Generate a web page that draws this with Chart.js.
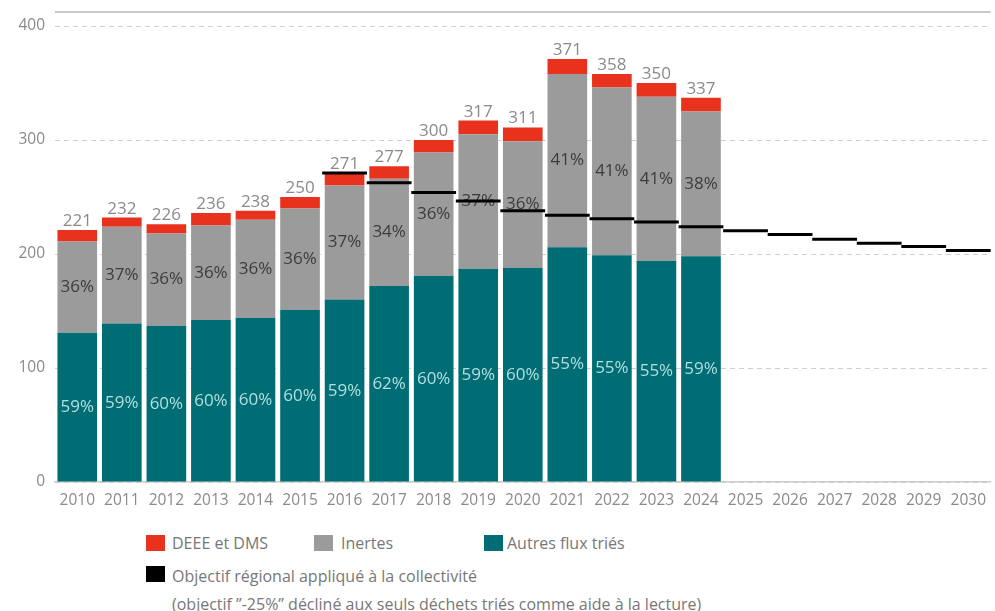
<!DOCTYPE html>
<html>
<head>
<meta charset="utf-8">
<script src="https://cdn.jsdelivr.net/npm/chart.js@4/dist/chart.umd.min.js"></script>
<style>
  body { margin: 0; background: #fff; font-family: "Open Sans", sans-serif; }
  #wrap { position: relative; width: 995px; height: 611px; overflow: hidden; }
  #chart { position: absolute; left: 0; top: 0; }
  .sq { position: absolute; width: 19px; height: 16px; }
  .lg { position: absolute; font-size: 16px; line-height: 20px; color: #777; white-space: nowrap; }
</style>
</head>
<body>
<div id="wrap">
  <canvas id="chart" width="995" height="515"></canvas>
  <div class="sq" style="left:146px;top:535px;background:#e8321e"></div>
  <div class="lg" style="left:172px;top:533px">DEEE et DMS</div>
  <div class="sq" style="left:314px;top:535px;background:#9b9b9b"></div>
  <div class="lg" style="left:341px;top:533px">Inertes</div>
  <div class="sq" style="left:484px;top:535px;background:#006d74"></div>
  <div class="lg" style="left:507px;top:533px">Autres flux triés</div>
  <div class="sq" style="left:146px;top:566px;background:#000"></div>
  <div class="lg" style="left:172px;top:566px">Objectif régional appliqué à la collectivité</div>
  <div class="lg" style="left:172px;top:594px">(objectif ”-25%” décliné aux seuls déchets triés comme aide à la lecture)</div>
</div>
<script>
const years = ['2010', '2011', '2012', '2013', '2014', '2015', '2016', '2017', '2018', '2019', '2020',
  '2021', '2022', '2023', '2024', '2025', '2026', '2027', '2028', '2029', '2030'];

const autres = [131, 139, 137, 142, 144, 151, 160, 172, 181, 187, 188, 206, 199, 194, 198];
const inertes = [80, 85, 81, 83, 86, 89, 100, 94, 108, 118, 111, 152, 147, 144, 127];
const deee = [10, 8, 8, 11, 8, 10, 11, 11, 11, 12, 12, 13, 12, 12, 12];
const totals = [221, 232, 226, 236, 238, 250, 271, 277, 300, 317, 311, 371, 358, 350, 337];

const pctAutres = ['59%', '59%', '60%', '60%', '60%', '60%', '59%', '62%', '60%', '59%', '60%', '55%', '55%', '55%', '59%'];
const pctInertes = ['36%', '37%', '36%', '36%', '36%', '36%', '37%', '34%', '36%', '37%', '36%', '41%', '41%', '41%', '38%'];

const objectif = [null, null, null, null, null, null, 271, 262.5, 254, 246.5, 238, 234, 231, 228, 224,
  220.5, 217, 213, 209.5, 206.5, 203];

const FONT = '"Open Sans", sans-serif';

// labels drawn right after the bars, before the objective marks
const barLabels = {
  id: 'barLabels',
  afterDatasetDraw(chart, args) {
    if (args.index !== 0) return;
    const { ctx, scales: { x, y } } = chart;
    ctx.save();
    ctx.textAlign = 'center';
    ctx.font = '17px ' + FONT;
    totals.forEach((t, i) => {
      const px = x.getPixelForValue(i);
      ctx.fillStyle = '#8a8a8a';
      ctx.textBaseline = 'alphabetic';
      ctx.fillText(t, px, y.getPixelForValue(t) - 4);
      ctx.textBaseline = 'middle';
      ctx.fillStyle = '#3c3c3c';
      ctx.fillText(pctInertes[i], px, y.getPixelForValue(autres[i] + inertes[i] / 2));
      ctx.fillStyle = '#b3dfe0';
      ctx.fillText(pctAutres[i], px, y.getPixelForValue(autres[i] / 2));
    });
    ctx.restore();
  }
};

// solid frame line a little above the 400 grid line
const topLine = {
  id: 'topLine',
  beforeDatasetsDraw(chart) {
    const { ctx, chartArea } = chart;
    ctx.save();
    ctx.strokeStyle = '#c8c8c8';
    ctx.lineWidth = 2;
    ctx.beginPath();
    ctx.moveTo(chartArea.left, chartArea.top - 14);
    ctx.lineTo(chartArea.right, chartArea.top - 14);
    ctx.stroke();
    ctx.restore();
  }
};

new Chart(document.getElementById('chart'), {
  type: 'bar',
  data: {
    labels: years,
    datasets: [
      { label: 'Autres flux triés', data: autres, backgroundColor: '#006d74', stack: 'd', order: 1 },
      { label: 'Inertes', data: inertes, backgroundColor: '#9b9b9b', stack: 'd', order: 1 },
      { label: 'DEEE et DMS', data: deee, backgroundColor: '#e8321e', stack: 'd', order: 1 },
      {
        type: 'line', label: 'Objectif', data: objectif, stack: 'obj', order: 0,
        showLine: false, pointStyle: 'line', pointRadius: 22.4, pointHoverRadius: 22.4,
        pointBorderWidth: 3, pointHoverBorderWidth: 3, pointBorderColor: '#000', borderColor: '#000'
      }
    ]
  },
  options: {
    responsive: false,
    animation: false,
    barPercentage: 0.89,
    categoryPercentage: 1,
    layout: { autoPadding: false, padding: { top: 26, left: 0, right: 0, bottom: 0 } },
    plugins: { legend: { display: false }, tooltip: { enabled: false } },
    scales: {
      x: {
        stacked: true,
        grid: { display: false, drawTicks: false },
        border: { display: true, color: '#cccccc', width: 1.5 },
        ticks: { color: '#8a8a8a', font: { family: FONT, size: 15.5 }, padding: 9, maxRotation: 0, autoSkip: false },
        afterFit: s => { s.height = 33; }
      },
      y: {
        stacked: true,
        min: 0,
        max: 400,
        afterFit: s => { s.width = 55; },
        grid: { color: '#cfcfcf', drawTicks: false, lineWidth: 1 },
        border: { display: false, dash: [5, 4] },
        ticks: { stepSize: 100, color: '#8a8a8a', font: { family: FONT, size: 15.5 }, padding: 10 }
      }
    }
  },
  plugins: [barLabels, topLine]
});
</script>
</body>
</html>
